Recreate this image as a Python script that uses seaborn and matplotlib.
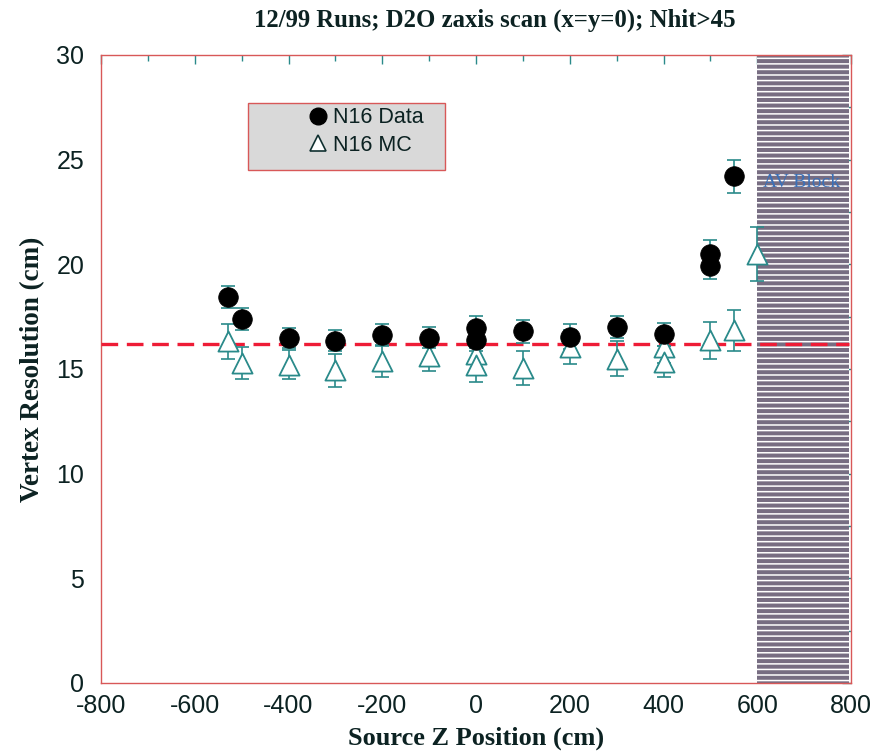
import numpy as np
import pandas as pd
import matplotlib
matplotlib.use("Agg")
import matplotlib.pyplot as plt
from matplotlib.patches import Rectangle
from matplotlib.lines import Line2D
from matplotlib.ticker import MultipleLocator
import seaborn as sns

# ---- data ----
data_z = [-530, -500, -400, -300, -200, -100, 0, 0, 100, 200, 300, 400, 500, 500, 550]
data_res = [18.43, 17.37, 16.47, 16.36, 16.62, 16.5, 16.95, 16.4, 16.8, 16.55, 17.0, 16.65, 20.48, 19.9, 24.2]
data_err = [0.53, 0.53, 0.48, 0.51, 0.52, 0.51, 0.6, 0.55, 0.55, 0.6, 0.54, 0.55, 0.69, 0.6, 0.8]

mc_z = [-530, -500, -400, -300, -200, -100, 0, 0, 100, 200, 300, 400, 400, 500, 550, 600]
mc_res = [16.33, 15.29, 15.2, 14.94, 15.38, 15.62, 15.72, 15.2, 15.06, 16.05, 15.5, 16.05, 15.35, 16.38, 16.84, 20.5]
mc_err = [0.83, 0.78, 0.7, 0.8, 0.78, 0.7, 0.75, 0.8, 0.82, 0.8, 0.85, 0.75, 0.75, 0.88, 1.0, 1.3]

ref_level = 16.2
av_block = (600, 795)

title = "12/99 Runs; D2O zaxis scan (x=y=0); Nhit>45"
xlabel = "Source Z Position (cm)"
ylabel = "Vertex Resolution (cm)"

# ---- style ----
sns.set_theme(style="white")
plt.rcParams["font.family"] = ["Liberation Sans", "DejaVu Sans"]
plt.rcParams["hatch.linewidth"] = 1.1
plt.rcParams["axes.unicode_minus"] = False

fig = plt.figure(figsize=(8.94, 7.56), dpi=100)
ax = fig.add_axes([101/894, 1-683/756, 750/894, 628/756])

teal = "#2a8a8a"
red_spine = "#d85858"
txt = "#0c2222"

df_data = pd.DataFrame({"z": data_z, "res": data_res, "err": data_err})
df_mc = pd.DataFrame({"z": mc_z, "res": mc_res, "err": mc_err})

# AV block shaded region
ax.axvspan(av_block[0], av_block[1], facecolor="#776d82", edgecolor="white",
           hatch="---", linewidth=0, zorder=1)
ax.text(612, 23.9, "AV Block", color="#3a70b8", fontsize=14,
        family=["Liberation Serif"], va="center", ha="left", zorder=2)

# reference line
ax.axhline(ref_level, xmin=0, xmax=(av_block[1] + 800) / 1600, color="#ee1c36",
           lw=2.4, ls=(0, (5, 2.6)), zorder=3)

# error bars
ax.errorbar(df_mc["z"], df_mc["res"], yerr=df_mc["err"], fmt="none",
            ecolor=teal, elinewidth=1.2, capsize=5, capthick=1.2, zorder=4)
ax.errorbar(df_data["z"], df_data["res"], yerr=df_data["err"], fmt="none",
            ecolor=teal, elinewidth=1.2, capsize=5, capthick=1.2, zorder=4)

sns.scatterplot(data=df_mc, x="z", y="res", marker="^", s=210, color="white",
                edgecolor=teal, linewidth=1.3, ax=ax, zorder=5, legend=False)
sns.scatterplot(data=df_data, x="z", y="res", marker="o", s=200, color="black",
                edgecolor="black", linewidth=0.5, ax=ax, zorder=6, legend=False)

ax.set_xlim(-800, 800)
ax.set_ylim(0, 30)
ax.xaxis.set_major_locator(MultipleLocator(200))
ax.xaxis.set_minor_locator(MultipleLocator(100))
ax.yaxis.set_major_locator(MultipleLocator(5))
ax.yaxis.set_minor_locator(MultipleLocator(2.5))
ax.tick_params(which="both", direction="in", color=teal, top=True, right=True,
               labelsize=18, labelcolor=txt)
ax.tick_params(which="major", length=6.5, width=1)
ax.tick_params(which="minor", length=4, width=1)
ax.tick_params(axis="x", pad=8)
ax.tick_params(axis="y", pad=12)
for s in ax.spines.values():
    s.set_color(red_spine)
    s.set_linewidth(1.0)
    s.set_visible(True)

ax.set_xlabel(xlabel, family=["Liberation Serif"], fontweight="bold", fontsize=19,
              color=txt, labelpad=6)
ax.set_ylabel(ylabel, family=["Liberation Serif"], fontweight="bold", fontsize=19.5,
              color=txt, labelpad=8)
fig.text(495/894, 1-20/756, title, family=["Liberation Serif"], fontweight="bold",
         fontsize=17.8, ha="center", va="center", color=txt)

# legend box
ax.add_patch(Rectangle((0.196, 0.817), 0.263, 0.107, transform=ax.transAxes,
                       facecolor="#d9d9d9", edgecolor=red_spine, lw=1.0, zorder=7))
handles = [
    Line2D([], [], marker="o", ls="none", color="black", markersize=12),
    Line2D([], [], marker="^", ls="none", markerfacecolor="white",
           markeredgecolor="#103030", markersize=11, markeredgewidth=1.2),
]
leg = ax.legend(handles, ["N16 Data", "N16 MC"], loc="upper left",
                bbox_to_anchor=(0.278, 0.917), frameon=False, fontsize=15.5,
                handlelength=0.8, handletextpad=0.3, borderpad=0,
                borderaxespad=0, labelspacing=0.3)
for t in leg.get_texts():
    t.set_color(txt)
leg.set_zorder(8)

fig.savefig("out.png", dpi=100)
